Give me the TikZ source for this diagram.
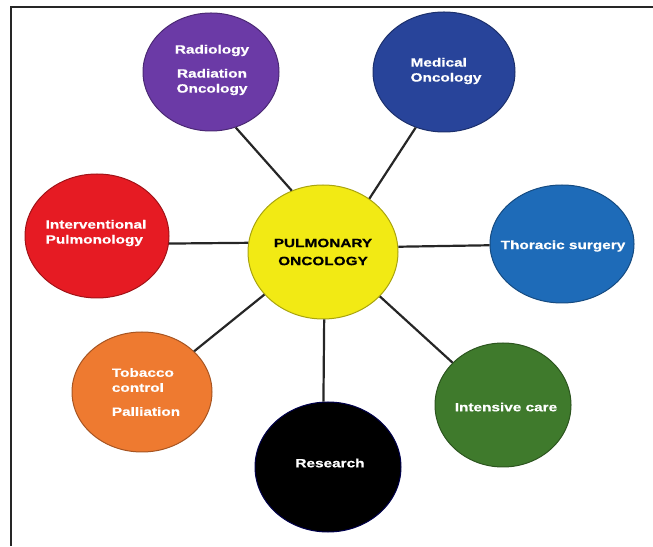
\documentclass[tikz,border=0pt]{standalone}
\usepackage{fontspec}
\usetikzlibrary{shapes.geometric}
\newfontfamily\lab[FakeStretch=1.28,BoldFeatures={FakeBold=0.6}]{Liberation Sans}
\definecolor{cyel}{HTML}{F2EA14}
\definecolor{cpur}{HTML}{6B3AA6}
\definecolor{cmed}{HTML}{28449A}
\definecolor{cths}{HTML}{1E6BB8}
\definecolor{cred}{HTML}{E61B23}
\definecolor{cora}{HTML}{EE7A30}
\definecolor{cgre}{HTML}{3F7A2C}
\begin{document}
\begin{tikzpicture}[x=1pt,y=1pt,
  bubble/.style={ellipse,inner sep=0pt,line width=1pt},
  txt/.style={inner sep=0pt,text=white,
    font=\lab\bfseries\fontsize{12}{15}\selectfont},
  link/.style={line width=2.2pt,draw=black!85}]
\useasboundingbox (0,0) rectangle (653,546);
\coordinate (fa) at (11,0);
\coordinate (fb) at (11,539);
\coordinate (fc) at (653,539);
\draw[line width=1.5pt,black!85] (fa) -- (fb) -- (fc);
% bubbles
\node[bubble,fill=cyel,draw=cyel!70!black,minimum width=150pt,minimum height=134pt] (c) at (323,294) {};
\node[bubble,fill=cpur,draw=cpur!70!black,minimum width=136pt,minimum height=118pt] (rad) at (211,474) {};
\node[bubble,fill=cmed,draw=cmed!70!black,minimum width=142pt,minimum height=120pt] (med) at (444,474) {};
\node[bubble,fill=cred,draw=cred!70!black,minimum width=144pt,minimum height=124pt] (ip) at (97,310) {};
\node[bubble,fill=cths,draw=cths!70!black,minimum width=144pt,minimum height=118pt] (ts) at (562,302) {};
\node[bubble,fill=cora,draw=cora!70!black,minimum width=140pt,minimum height=120pt] (tob) at (142,154) {};
\node[bubble,fill=black,draw=black!70!blue,minimum width=146pt,minimum height=130pt] (res) at (328,79) {};
\node[bubble,fill=cgre,draw=cgre!70!black,minimum width=136pt,minimum height=124pt] (ic) at (503,141) {};
% texts
\node[txt,text=black,align=center] (ct) at (323,294) {PULMONARY\\[3pt]ONCOLOGY};
\node[txt,align=center] (radt) at (212,476) {Radiology\\[9pt]Radiation\\Oncology};
\node[txt,align=left] (medt) at (446,475) {Medical\\Oncology};
\node[txt,align=left] (ipt) at (96,313) {Interventional\\Pulmonology};
\node[txt] (tst) at (563,300) {Thoracic surgery};
\node[txt,align=left] (tobt) at (146,154) {Tobacco\\control\\[9pt]Palliation};
\node[txt] (rest) at (330,83) {Research};
\node[txt] (ict) at (506,139) {Intensive care};
% connectors
\draw[link] (c.117.7) -- (rad.294);
\draw[link] (c.49.8) -- (med.243);
\draw[link] (c.173) -- (ip.354);
\draw[link] (c.4.6) -- (ts.181.6);
\draw[link] (c.216.4) -- (tob.38.4);
\draw[link] (c.271.7) -- (res.94.4);
\draw[link] (c.322.5) -- (ic.140.5);
\end{tikzpicture}
\end{document}
